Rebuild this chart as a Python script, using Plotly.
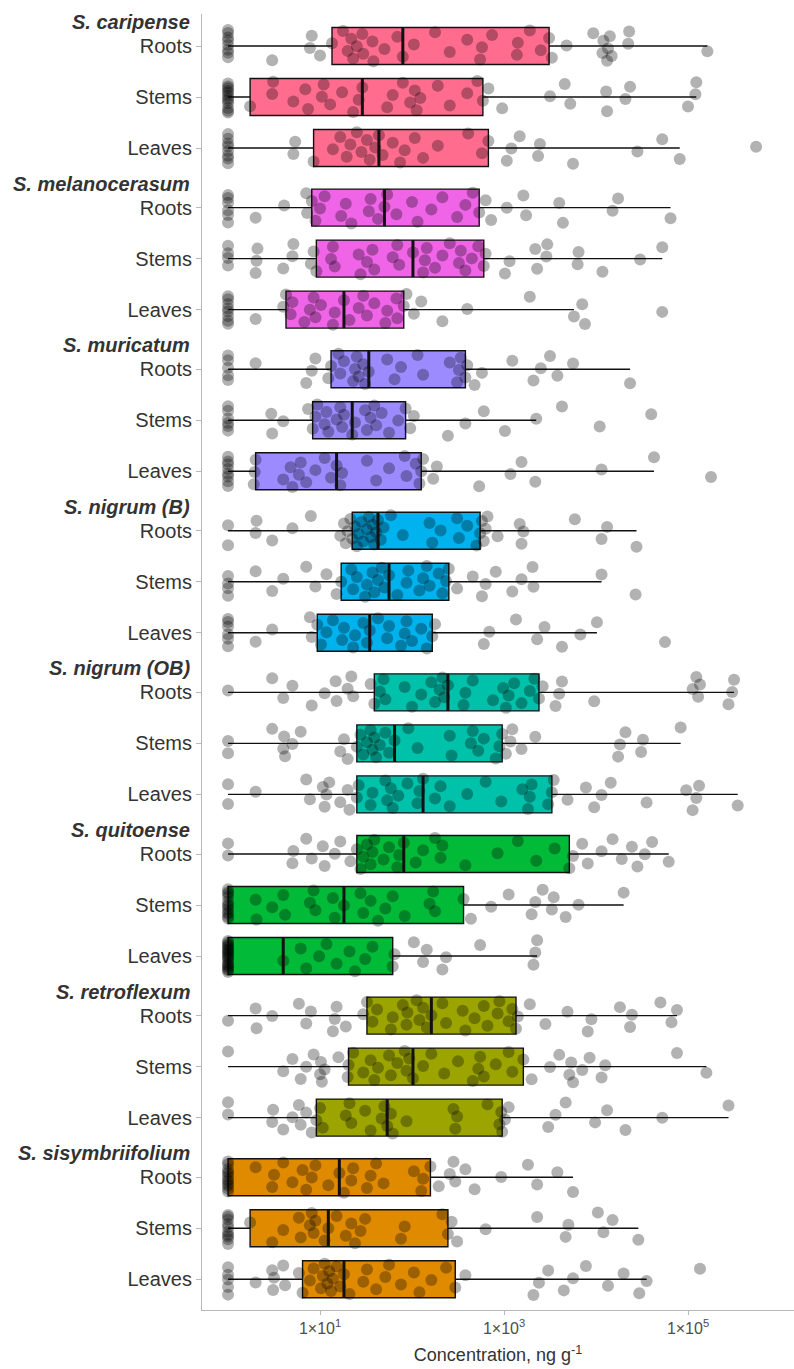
import numpy as np
import plotly.graph_objects as go

# log10 concentration (ng g-1) per sample; 0 = 1 ng g-1
species = ["S. caripense", "S. melanocerasum", "S. muricatum", "S. nigrum (B)",
           "S. nigrum (OB)", "S. quitoense", "S. retroflexum", "S. sisymbriifolium"]
tissues = ["Roots", "Stems", "Leaves"]
box_colors = ["#FF6C8E", "#F064E8", "#9B8BFF", "#00B2EE",
              "#00C1AA", "#00BA38", "#9CA500", "#E08A00"]

caripense_roots = [0, 0, 0, 0, 0, 0, 0, 0, 0.48, 0.89, 0.91, 1.00, 1.13,
                   1.25, 1.30, 1.34, 1.36, 1.40, 1.46, 1.47, 1.57, 1.58, 1.70, 1.84, 1.90,
                   2.02, 2.25, 2.41, 2.60, 2.74, 2.76, 2.87, 3.14, 3.15, 3.28, 3.40, 3.49,
                   3.52, 3.68, 3.97, 4.07, 4.08, 4.12, 4.13, 4.15, 4.17, 4.35, 4.36, 5.21]
caripense_stems = [0, 0, 0, 0, 0, 0, 0, 0, 0, 0, 0, 0, 0.24,
                   0.48, 0.49, 0.71, 0.84, 0.87, 1.02, 1.04, 1.11, 1.24, 1.36, 1.42, 1.46,
                   1.73, 1.79, 1.90, 1.98, 2.03, 2.05, 2.09, 2.28, 2.41, 2.60, 2.71, 2.77,
                   2.83, 2.98, 3.50, 3.66, 3.72, 4.11, 4.12, 4.32, 4.37, 5.00, 5.08, 5.09]
caripense_leaves = [0, 0, 0, 0, 0, 0, 0, 0, 0.71, 0.73, 0.93,
                    1.14, 1.22, 1.29, 1.33, 1.40, 1.45, 1.51, 1.54, 1.60, 1.64,
                    1.68, 1.79, 1.87, 1.92, 2.03, 2.12, 2.28, 2.61, 2.76, 2.83,
                    3.03, 3.08, 3.17, 3.37, 3.39, 3.75, 4.45, 4.72, 4.91, 5.74]

melanocerasum_roots = [0, 0, 0, 0, 0, 0, 0.30, 0.61, 0.85, 0.86, 0.91,
                       0.95, 1.00, 1.05, 1.23, 1.28, 1.34, 1.53, 1.55, 1.63, 1.70,
                       1.73, 1.83, 2.00, 2.06, 2.21, 2.33, 2.49, 2.58, 2.66, 2.73,
                       2.80, 2.86, 3.03, 3.21, 3.24, 3.60, 3.64, 4.18, 4.24, 4.81]
melanocerasum_stems = [0, 0, 0, 0, 0.30, 0.31, 0.32, 0.60, 0.70, 0.71, 0.90, 0.93, 0.96,
                       1.12, 1.14, 1.16, 1.42, 1.44, 1.51, 1.57, 1.59, 1.79, 1.84, 1.86, 2.01,
                       2.12, 2.14, 2.16, 2.25, 2.33, 2.41, 2.51, 2.53, 2.58, 2.65, 2.72, 2.78,
                       2.80, 3.01, 3.06, 3.34, 3.36, 3.46, 3.47, 3.80, 3.81, 4.07, 4.48, 4.72]
melanocerasum_leaves = [0, 0, 0, 0, 0, 0, 0, 0, 0.30, 0.60, 0.63,
                        0.68, 0.70, 0.83, 0.89, 0.93, 0.95, 1.01, 1.14, 1.16, 1.26,
                        1.32, 1.42, 1.47, 1.51, 1.59, 1.71, 1.73, 1.83, 1.84, 1.91,
                        1.94, 2.02, 2.10, 2.33, 2.60, 3.28, 3.76, 3.85, 3.88, 4.72]

muricatum_roots = [0, 0, 0, 0, 0, 0.30, 0.85, 0.91, 0.95, 1.09, 1.12,
                   1.20, 1.22, 1.26, 1.36, 1.38, 1.40, 1.42, 1.47, 1.49, 1.53,
                   1.73, 1.81, 1.88, 2.06, 2.12, 2.41, 2.49, 2.51, 2.53, 2.58,
                   2.60, 2.68, 2.76, 3.09, 3.32, 3.40, 3.50, 3.58, 3.75, 4.37]
muricatum_stems = [0, 0, 0, 0, 0, 0, 0.47, 0.48, 0.60, 0.87, 0.92,
                   0.95, 0.97, 1.05, 1.07, 1.09, 1.18, 1.22, 1.24, 1.26, 1.35,
                   1.38, 1.49, 1.51, 1.55, 1.59, 1.61, 1.67, 1.75, 1.85, 1.93,
                   1.98, 2.02, 2.39, 2.58, 2.78, 3.01, 3.35, 3.63, 4.04, 4.60]
muricatum_leaves = [0, 0, 0, 0, 0, 0, 0, 0, 0.28, 0.29, 0.30,
                    0.60, 0.68, 0.70, 0.77, 0.79, 0.85, 0.95, 1.05, 1.12, 1.18,
                    1.22, 1.24, 1.51, 1.61, 1.75, 1.92, 1.94, 2.04, 2.08, 2.10,
                    2.12, 2.23, 2.27, 2.73, 3.07, 3.19, 3.34, 4.06, 4.63, 5.25]

nigrum_b_roots = [0, 0, 0.30, 0.31, 0.48, 0.70, 0.90, 1.22, 1.26, 1.28, 1.30, 1.33, 1.35,
                  1.38, 1.40, 1.42, 1.45, 1.47, 1.51, 1.53, 1.55, 1.57, 1.59, 1.61, 1.63,
                  1.66, 1.69, 1.77, 1.90, 2.19, 2.22, 2.31, 2.49, 2.51, 2.60, 2.70, 2.74,
                  2.76, 2.78, 2.80, 2.82, 2.93, 3.17, 3.19, 3.21, 3.77, 4.06, 4.12, 4.44]
nigrum_b_stems = [0, 0, 0, 0, 0.30, 0.48, 0.60, 0.85, 0.95, 1.07, 1.18, 1.23,
                  1.34, 1.36, 1.40, 1.49, 1.51, 1.57, 1.59, 1.63, 1.67, 1.70, 1.75,
                  1.84, 1.94, 1.96, 2.08, 2.12, 2.16, 2.19, 2.29, 2.33, 2.37, 2.40,
                  2.49, 2.66, 2.76, 2.80, 2.91, 3.09, 3.19, 3.31, 3.32, 4.06, 4.43]
nigrum_b_leaves = [0, 0, 0, 0, 0, 0, 0.30, 0.48, 0.89, 0.91, 0.97,
                   1.01, 1.07, 1.14, 1.24, 1.26, 1.36, 1.38, 1.47, 1.51, 1.54,
                   1.63, 1.73, 1.75, 1.88, 1.92, 1.94, 2.00, 2.10, 2.16, 2.22,
                   2.25, 2.78, 2.84, 3.13, 3.36, 3.44, 3.63, 3.83, 4.01, 4.75]

nigrum_ob_roots = [0, 0.48, 0.60, 0.70, 0.91, 1.05, 1.17, 1.18, 1.30, 1.34, 1.36, 1.55, 1.59,
                   1.65, 1.69, 1.71, 1.92, 2.00, 2.10, 2.21, 2.25, 2.30, 2.33, 2.35, 2.39,
                   2.56, 2.58, 2.66, 2.88, 2.99, 3.02, 3.05, 3.11, 3.19, 3.28, 3.33, 3.38,
                   3.42, 3.56, 3.60, 3.63, 3.98, 5.05, 5.09, 5.11, 5.13, 5.44, 5.48, 5.50]
nigrum_ob_stems = [0, 0, 0.48, 0.60, 0.61, 0.62, 0.70, 0.79, 1.22, 1.26, 1.30, 1.40,
                   1.44, 1.47, 1.51, 1.55, 1.57, 1.59, 1.61, 1.65, 1.71, 1.75, 1.81,
                   1.96, 2.06, 2.41, 2.43, 2.64, 2.66, 2.72, 2.78, 2.91, 2.95, 2.98,
                   3.02, 3.07, 3.09, 3.19, 3.34, 4.24, 4.26, 4.32, 4.49, 4.51, 4.92]
nigrum_ob_leaves = [0, 0, 0.30, 0.85, 0.89, 1.03, 1.05, 1.07, 1.10, 1.22, 1.30, 1.32, 1.40,
                    1.42, 1.55, 1.57, 1.71, 1.73, 1.77, 1.79, 1.85, 1.95, 2.06, 2.08, 2.12,
                    2.25, 2.31, 2.41, 2.60, 2.80, 2.97, 3.20, 3.26, 3.28, 3.30, 3.48, 3.52,
                    3.54, 3.69, 3.89, 3.98, 4.06, 4.16, 4.55, 4.98, 5.05, 5.09, 5.12, 5.54]

quitoense_roots = [0, 0, 0.70, 0.71, 0.85, 0.91, 1.03, 1.05, 1.16, 1.22, 1.33, 1.40,
                   1.44, 1.47, 1.51, 1.55, 1.57, 1.59, 1.69, 1.75, 1.84, 1.86, 1.91,
                   2.04, 2.12, 2.25, 2.31, 2.33, 2.58, 2.93, 3.15, 3.35, 3.55, 3.71,
                   3.75, 3.85, 3.91, 4.06, 4.18, 4.28, 4.39, 4.45, 4.53, 4.61, 4.79]
quitoense_stems = [0, 0, 0, 0, 0, 0, 0, 0, 0, 0, 0, 0,
                   0.30, 0.31, 0.48, 0.60, 0.62, 0.89, 0.93, 0.95, 1.14, 1.16, 1.26,
                   1.44, 1.47, 1.55, 1.63, 1.71, 1.79, 1.92, 2.19, 2.23, 2.25, 2.56,
                   2.64, 2.86, 3.05, 3.30, 3.34, 3.42, 3.52, 3.54, 3.67, 3.81, 4.30]
quitoense_leaves = [0, 0, 0, 0, 0, 0, 0, 0, 0, 0, 0, 0, 0, 0, 0, 0, 0, 0, 0, 0, 0.60,
                    0.79, 0.85, 0.99, 1.07, 1.18, 1.32, 1.38, 1.49, 1.57, 1.79,
                    1.81, 2.02, 2.12, 2.16, 2.33, 2.37, 2.74, 3.32, 3.34, 3.36]

retroflexum_roots = [0, 0.30, 0.31, 0.48, 0.77, 0.85, 0.90, 1.14, 1.16, 1.18, 1.28, 1.47, 1.51,
                     1.57, 1.62, 1.77, 1.79, 1.90, 1.94, 1.95, 2.05, 2.08, 2.12, 2.16, 2.21,
                     2.33, 2.37, 2.55, 2.58, 2.68, 2.78, 2.82, 2.93, 2.95, 3.05, 3.09, 3.13,
                     3.15, 3.28, 3.45, 3.69, 3.91, 3.95, 4.26, 4.37, 4.39, 4.70, 4.82, 4.88]
retroflexum_stems = [0, 0.60, 0.70, 0.79, 0.85, 0.93, 1.00, 1.01, 1.02, 1.05, 1.20, 1.30, 1.31,
                     1.36, 1.47, 1.55, 1.59, 1.63, 1.75, 1.77, 1.84, 1.92, 1.94, 1.97, 2.01,
                     2.12, 2.21, 2.35, 2.50, 2.66, 2.72, 2.74, 2.78, 2.91, 3.05, 3.09, 3.21,
                     3.30, 3.50, 3.60, 3.71, 3.73, 3.75, 3.85, 3.93, 4.06, 4.10, 4.88, 5.20]
retroflexum_leaves = [0, 0, 0.48, 0.49, 0.60, 0.70, 0.77, 0.79, 0.85, 0.91, 0.96,
                      1.00, 1.03, 1.28, 1.32, 1.34, 1.49, 1.55, 1.67, 1.70, 1.73,
                      1.77, 1.79, 1.94, 2.45, 2.47, 2.49, 2.82, 2.95, 2.97, 2.98,
                      3.01, 3.05, 3.48, 3.56, 3.67, 3.99, 4.12, 4.32, 4.72, 5.44]

sisymbriifolium_roots = [0, 0, 0, 0, 0, 0, 0, 0, 0, 0, 0, 0,
                         0.30, 0.48, 0.50, 0.60, 0.70, 0.81, 0.85, 0.91, 0.95, 1.09, 1.21,
                         1.26, 1.34, 1.36, 1.51, 1.55, 1.61, 1.69, 2.02, 2.10, 2.12, 2.20,
                         2.29, 2.41, 2.45, 2.47, 2.58, 2.68, 2.97, 3.26, 3.36, 3.58, 3.75]
sisymbriifolium_stems = [0, 0, 0, 0, 0, 0, 0, 0, 0, 0, 0.24,
                         0.48, 0.60, 0.77, 0.79, 0.89, 0.91, 0.93, 0.95, 1.05, 1.09,
                         1.18, 1.28, 1.34, 1.38, 1.44, 1.49, 1.88, 1.92, 2.33, 2.39,
                         2.43, 2.49, 2.80, 3.36, 3.67, 3.70, 4.02, 4.08, 4.18, 4.46]
sisymbriifolium_leaves = [0, 0, 0, 0, 0, 0.30, 0.48, 0.49, 0.50, 0.60, 0.62, 0.77, 0.81,
                          0.89, 0.93, 1.01, 1.03, 1.05, 1.08, 1.10, 1.12, 1.14, 1.18, 1.22, 1.26,
                          1.32, 1.47, 1.51, 1.61, 1.71, 1.75, 1.88, 2.02, 2.08, 2.21, 2.37, 2.47,
                          2.58, 3.32, 3.38, 3.48, 3.65, 3.75, 3.89, 4.13, 4.30, 4.47, 4.55, 5.13]

samples = [
    [caripense_roots, caripense_stems, caripense_leaves],
    [melanocerasum_roots, melanocerasum_stems, melanocerasum_leaves],
    [muricatum_roots, muricatum_stems, muricatum_leaves],
    [nigrum_b_roots, nigrum_b_stems, nigrum_b_leaves],
    [nigrum_ob_roots, nigrum_ob_stems, nigrum_ob_leaves],
    [quitoense_roots, quitoense_stems, quitoense_leaves],
    [retroflexum_roots, retroflexum_stems, retroflexum_leaves],
    [sisymbriifolium_roots, sisymbriifolium_stems, sisymbriifolium_leaves],
]

# vertical layout (y units = pixels of the panel, top to bottom)
Y_TOP, Y_BOTTOM = 14, 1310
GROUP_STEP, ROW_STEP, FIRST_ROW = 161.6, 51, 46
BOX_W, JITTER_H = 37, 32
FONT = "Liberation Sans, Arial, sans-serif"


def tukey_stats(vals):
    v = np.asarray(vals, dtype=float)
    q1, med, q3 = np.percentile(v, [25, 50, 75])
    iqr = q3 - q1
    lo = v[v >= q1 - 1.5 * iqr].min()
    hi = v[v <= q3 + 1.5 * iqr].max()
    return q1, med, q3, lo, hi


fig = go.Figure()
shapes, annotations = [], []
tickvals, ticktext = [], []

for g, (name, color, rows) in enumerate(zip(species, box_colors, samples)):
    pos = [FIRST_ROW + g * GROUP_STEP + t * ROW_STEP for t in range(3)]
    stats = [tukey_stats(r) for r in rows]
    fig.add_trace(go.Box(
        y=pos, orientation="h",
        q1=[s[0] for s in stats], median=[s[1] for s in stats], q3=[s[2] for s in stats],
        lowerfence=[s[3] for s in stats], upperfence=[s[4] for s in stats],
        width=BOX_W, whiskerwidth=0, fillcolor=color,
        line=dict(color="#111111", width=1.4), boxpoints=False,
        hoverinfo="skip", showlegend=False,
    ))
    for t, s in enumerate(stats):
        shapes.append(dict(type="line", xref="x", yref="y",
                           x0=s[1], x1=s[1], y0=pos[t] - BOX_W / 2, y1=pos[t] + BOX_W / 2,
                           line=dict(color="#111111", width=3), layer="above"))
    tickvals += pos
    ticktext += tissues
    annotations.append(dict(xref="paper", yref="y", x=0, y=pos[0] - 24, xshift=-10,
                            xanchor="right", yanchor="middle", showarrow=False,
                            text=f"<b><i>{name}</i></b>",
                            font=dict(family=FONT, size=20, color="#333333")))

# jittered sample points drawn on top of the boxes
GOLDEN = 0.6180339887
for g, rows in enumerate(samples):
    for t, r in enumerate(rows):
        center = FIRST_ROW + g * GROUP_STEP + t * ROW_STEP
        ys = [center + (((i * GOLDEN + (3 * g + t) * 0.37) % 1.0) - 0.5) * JITTER_H
              for i in range(len(r))]
        fig.add_trace(go.Scatter(
            x=r, y=ys, mode="markers",
            marker=dict(size=12, color="rgba(0,0,0,0.3)", line=dict(width=0)),
            hoverinfo="skip", showlegend=False,
        ))

fig.update_layout(
    width=794, height=1369,
    margin=dict(l=202, r=0, t=Y_TOP, b=1369 - Y_BOTTOM),
    paper_bgcolor="white", plot_bgcolor="white",
    boxmode="overlay",
    shapes=shapes, annotations=annotations,
    font=dict(family=FONT, color="#333333"),
)
fig.update_xaxes(
    range=[-0.283, 6.152], tickvals=[1, 3, 5],
    ticktext=["1×10<sup>1</sup>", "1×10<sup>3</sup>", "1×10<sup>5</sup>"],
    ticks="outside", ticklen=4, tickcolor="#B8B8B8",
    showline=True, linecolor="#B8B8B8", linewidth=1,
    showgrid=False, zeroline=False, automargin=False,
    tickfont=dict(family=FONT, size=16, color="#4D4D4D"),
    title=dict(text="Concentration, ng g<sup>-1</sup>", standoff=12,
               font=dict(family=FONT, size=18, color="#333333")),
)
fig.update_yaxes(
    range=[Y_BOTTOM, Y_TOP], tickvals=tickvals, ticktext=ticktext,
    ticks="outside", ticklen=5, tickcolor="#B8B8B8",
    showline=True, linecolor="#B8B8B8", linewidth=1,
    showgrid=False, zeroline=False, automargin=False,
    tickfont=dict(family=FONT, size=20, color="#333333"),
)

fig.write_html("out.html")
